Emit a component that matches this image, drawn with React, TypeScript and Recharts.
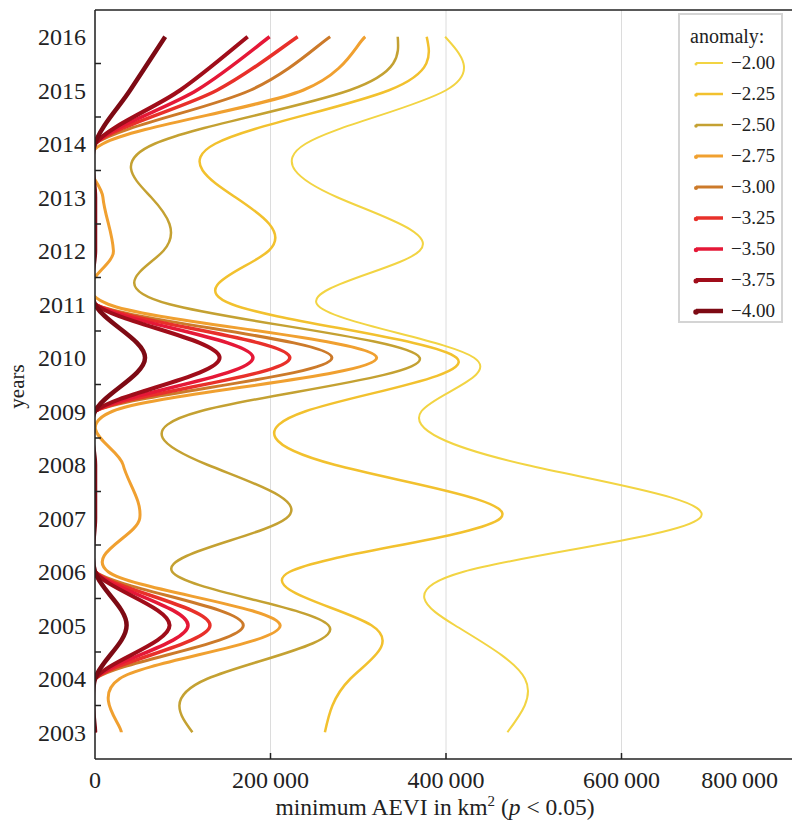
import {LineChart, Line, XAxis, YAxis, CartesianGrid, ReferenceLine, Legend, Label} from 'recharts';

const years = [2003, 2004, 2005, 2006, 2007, 2008, 2009, 2010, 2011, 2012, 2013, 2014, 2015, 2016];

// minimum AEVI (km²) per anomaly threshold
const anom200 = [470000, 490000, 410000, 420000, 689000, 491000, 372000, 432000, 253000, 370000, 276000, 240000, 400000, 399000];
const anom225 = [262000, 291000, 315000, 222000, 462000, 273000, 240000, 412000, 156000, 198000, 160000, 137000, 335000, 378000];
const anom250 = [111000, 128000, 266000, 88000, 218000, 128000, 120000, 370000, 85000, 78000, 64000, 68000, 290000, 345000];
const anom275 = [30000, 28000, 211000, 15000, 51000, 32000, 20000, 321000, 15000, 21000, 9000, 9000, 237000, 308000];
const anom300 = [0, 0, 169000, 0, 0, 0, 0, 270000, 0, 0, 0, 0, 177000, 268000];
const anom325 = [0, 0, 131000, 0, 0, 0, 0, 222000, 0, 0, 0, 0, 139000, 231000];
const anom350 = [0, 0, 106000, 0, 0, 0, 0, 180000, 0, 0, 0, 0, 116000, 199000];
const anom375 = [0, 0, 85000, 0, 0, 0, 0, 142000, 0, 0, 0, 0, 97000, 174000];
const anom400 = [0, 0, 36000, 0, 0, 0, 0, 57000, 0, 0, 0, 0, 40000, 80000];

const anomalyLabels = ['\u22122.00', '\u22122.25', '\u22122.50', '\u22122.75', '\u22123.00', '\u22123.25', '\u22123.50', '\u22123.75', '\u22124.00'];
const xTicks = [0, 200000, 400000, 600000, 800000];

const seriesValues = [anom200, anom225, anom250, anom275, anom300, anom325, anom350, anom375, anom400];
const seriesColors = ['#f2d443', '#f2c12e', '#c4a132', '#f0a030', '#cc7a2a', '#e8302a', '#e51837', '#a00d1a', '#7d0a14'];
const seriesWidths = [2, 2.5, 2.5, 3, 3, 3.5, 3.5, 4, 4.5];

const keys = seriesValues.map((_, i) => `s${i}`);
const rows = years.map((year, i) => {
    const row: Record<string, number> = {year};
    seriesValues.forEach((vals, s) => {
        row[keys[s]] = vals[i];
    });
    return row;
});

const yTicks = [...years, ...years.slice(0, -1).map((y) => y + 0.5)];

const FONT = '"Liberation Serif", "Times New Roman", serif';

const fmt = (v: number) => String(v).replace(/\B(?=(\d{3})+(?!\d))/g, '\u2009');

// local (catmull-rom) spline, so flat runs of zeros stay flat
const smoothCurve = (context: any) => {
    let pts: number[][] = [];
    return {
        areaStart() {},
        areaEnd() {},
        lineStart() {
            pts = [];
        },
        point(x: number, y: number) {
            pts.push([+x, +y]);
        },
        lineEnd() {
            const n = pts.length;
            if (!n) return;
            context.moveTo(pts[0][0], pts[0][1]);
            for (let i = 0; i < n - 1; i++) {
                const p0 = pts[Math.max(i - 1, 0)];
                const p1 = pts[i];
                const p2 = pts[i + 1];
                const p3 = pts[Math.min(i + 2, n - 1)];
                context.bezierCurveTo(
                    p1[0] + (p2[0] - p0[0]) / 6, p1[1] + (p2[1] - p0[1]) / 6,
                    p2[0] - (p3[0] - p1[0]) / 6, p2[1] - (p3[1] - p1[1]) / 6,
                    p2[0], p2[1],
                );
            }
        },
    };
};

// the wide series never touch zero, a natural spline suits them
const seriesCurve = (i: number): any => (i < 3 ? 'natural' : smoothCurve);

const XTick = (props: any) => {
    const {x, y, payload} = props;
    const v = payload.value;
    const last = v === 800000;
    return (
        <g>
            {v > 0 && !last && <line x1={x} x2={x} y1={y} y2={y - 6} stroke="#222" strokeWidth={1.5}/>}
            <text x={last ? x + 2 : x} y={y + 29} textAnchor={last ? 'end' : 'middle'} fontSize={24} fill="#222" fontFamily={FONT}>
                {fmt(v)}
            </text>
        </g>
    );
};

const YTick = (props: any) => {
    const {x, y, payload} = props;
    const v = payload.value;
    if (!Number.isInteger(v)) {
        return <line x1={x} x2={x + 6} y1={y} y2={y} stroke="#222" strokeWidth={1.5}/>;
    }
    return (
        <text x={x - 9} y={y} dy="0.35em" textAnchor="end" fontSize={24} fill="#222" fontFamily={FONT}>
            {v}
        </text>
    );
};

const XTitle = (props: any) => {
    const {viewBox} = props;
    const cx = viewBox.x + viewBox.width / 2 - 11;
    return (
        <text x={cx} y={viewBox.y + 56} textAnchor="middle" fontSize={23.5} fill="#222" fontFamily={FONT}>
            minimum AEVI in km<tspan dy={-9} fontSize={15}>2</tspan>
            <tspan dy={9}> (</tspan>
            <tspan fontStyle="italic">p</tspan>
            <tspan>{' < 0.05)'}</tspan>
        </text>
    );
};

const YTitle = (props: any) => {
    const {viewBox} = props;
    const cy = viewBox.y + viewBox.height / 2 + 2;
    return (
        <text x={24} y={cy} transform={`rotate(-90 24 ${cy})`} textAnchor="middle" fontSize={21} fill="#222" fontFamily={FONT}>
            years
        </text>
    );
};

const LegendBox = () => (
    <div style={{
        width: 101, height: 306, border: '2px solid #d4d4d4', background: '#fff',
        fontFamily: FONT, color: '#222', boxSizing: 'content-box',
    }}>
        <div style={{fontSize: 20, marginLeft: 10, marginTop: 10, lineHeight: '22px'}}>anomaly:</div>
        {anomalyLabels.map((lab, i) => (
            <div key={lab} style={{display: 'flex', alignItems: 'center', height: 31, marginLeft: 13}}>
                <svg width={32} height={10}>
                    <circle cx={3} cy={6} r={seriesWidths[i] / 2 + 0.5} fill={seriesColors[i]}/>
                    <line x1={3} x2={30} y1={5} y2={5} stroke={seriesColors[i]} strokeWidth={seriesWidths[i]}/>
                </svg>
                <span style={{fontSize: 19, marginLeft: 6}}>{lab}</span>
            </div>
        ))}
    </div>
);

export default function App() {
    return (
        <div style={{margin: '0 -8px'}}>
            <LineChart width={800} height={812} data={rows} layout="vertical" margin={{top: 2, right: 3, left: 0, bottom: 0}}>
                <CartesianGrid horizontal={false} stroke="#dcdcdc" strokeWidth={1}/>
                <XAxis
                    type="number"
                    domain={[0, 800000]}
                    ticks={xTicks}
                    allowDataOverflow
                    height={61}
                    tickLine={false}
                    tickSize={0}
                    tickMargin={0}
                    tick={<XTick/>}
                    axisLine={{stroke: '#222', strokeWidth: 1.5}}
                >
                    <Label content={<XTitle/>}/>
                </XAxis>
                <YAxis
                    type="number"
                    dataKey="year"
                    domain={[2002.5, 2016.5]}
                    ticks={yTicks}
                    reversed
                    width={95}
                    tickLine={false}
                    tickSize={0}
                    tickMargin={0}
                    tick={<YTick/>}
                    interval={0}
                    axisLine={{stroke: '#222', strokeWidth: 1.5}}
                >
                    <Label content={<YTitle/>}/>
                </YAxis>
                <ReferenceLine x={800000} stroke="#222" strokeWidth={1.5} ifOverflow="visible"/>
                <ReferenceLine y={2016.5} stroke="#222" strokeWidth={1.5} ifOverflow="visible"/>
                {keys.map((k, i) => (
                    <Line
                        key={k}
                        dataKey={k}
                        name={anomalyLabels[i]}
                        type={seriesCurve(i)}
                        stroke={seriesColors[i]}
                        strokeWidth={seriesWidths[i]}
                        dot={false}
                        isAnimationActive={false}
                    />
                ))}
                <Legend
                    layout="vertical"
                    align="center"
                    verticalAlign="middle"
                    wrapperStyle={{top: 5, left: 678, width: 105}}
                    content={() => <LegendBox/>}
                />
            </LineChart>
        </div>
    );
}
